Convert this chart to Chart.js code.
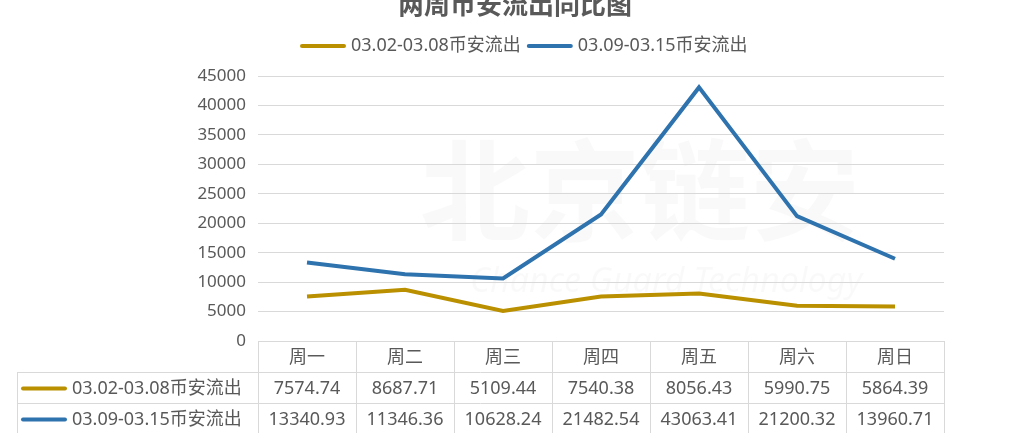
<!DOCTYPE html>
<html>
<head>
<meta charset="utf-8">
<script src="https://cdn.jsdelivr.net/npm/chart.js@4"></script>
<style>
  html, body { margin: 0; padding: 0; background: #fff; }
  #wrap { width: 1031px; height: 433px; position: relative; }
</style>
</head>
<body>
<div id="wrap"><canvas id="flowChart"></canvas></div>
<script>
// Chart data
const days = ['周一', '周二', '周三', '周四', '周五', '周六', '周日'];
const weekOneLabel = '03.02-03.08币安流出';
const weekTwoLabel = '03.09-03.15币安流出';
const weekOne = [7574.74, 8687.71, 5109.44, 7540.38, 8056.43, 5990.75, 5864.39];
const weekTwo = [13340.93, 11346.36, 10628.24, 21482.54, 43063.41, 21200.32, 13960.71];
const chartTitle = '两周币安流出同比图';

const gold = '#BA9000';
const blue = '#2E72AE';
const textColor = '#595959';
const gridColor = '#D9D9D9';
const fontFamily = '"Noto Sans", "Noto Sans CJK SC", sans-serif';

// Title, legend, watermark and the data table under the plot
const tablePlugin = {
  id: 'dataTable',
  beforeDraw(chart) {
    const ctx = chart.ctx;
    ctx.save();
    ctx.fillStyle = 'rgba(0,0,0,0.025)';
    ctx.font = 'bold 110px "Noto Sans CJK SC"';
    ctx.textAlign = 'left';
    ctx.textBaseline = 'middle';
    ctx.fillText('北京链安', 420, 190);
    ctx.font = 'italic 34px "Noto Sans"';
    ctx.fillText('Chance Guard Technology', 470, 282);
    ctx.restore();
  },
  afterDraw(chart) {
    const ctx = chart.ctx;
    const area = chart.chartArea;
    const xs = chart.scales.x;
    const colW = xs.getPixelForValue(1) - xs.getPixelForValue(0);
    const left = area.left;
    const right = area.right;
    const top = area.bottom;
    const rowH = 31;
    const labelLeft = 17;

    ctx.save();
    // title (cut at the top edge like the original)
    ctx.fillStyle = textColor;
    ctx.font = 'bold 26px "Noto Sans CJK SC"';
    ctx.textAlign = 'center';
    ctx.textBaseline = 'middle';
    ctx.fillText(chartTitle, 515, 4);

    // legend
    ctx.font = '18px ' + fontFamily;
    ctx.textAlign = 'left';
    ctx.lineWidth = 4;
    ctx.lineCap = 'round';
    let lx = 302;
    const ly = 46;
    chart.data.datasets.forEach(ds => {
      ctx.strokeStyle = ds.borderColor;
      ctx.beginPath();
      ctx.moveTo(lx, ly);
      ctx.lineTo(lx + 42, ly);
      ctx.stroke();
      ctx.fillText(ds.label, lx + 49, ly);
      lx += 49 + ctx.measureText(ds.label).width + 8;
    });

    // grid of the table
    ctx.strokeStyle = gridColor;
    ctx.lineWidth = 1;
    ctx.lineCap = 'butt';
    ctx.beginPath();
    ctx.moveTo(left, top + 0.5);
    ctx.lineTo(right, top + 0.5);
    for (let r = 1; r <= 3; r++) {
      ctx.moveTo(labelLeft, top + rowH * r + 0.5);
      ctx.lineTo(right, top + rowH * r + 0.5);
    }
    ctx.moveTo(labelLeft + 0.5, top + rowH);
    ctx.lineTo(labelLeft + 0.5, top + rowH * 3);
    for (let i = 0; i <= days.length; i++) {
      const x = Math.round(left + i * colW) + 0.5;
      ctx.moveTo(x, top);
      ctx.lineTo(x, top + rowH * 3);
    }
    ctx.stroke();

    ctx.fillStyle = textColor;
    ctx.textAlign = 'center';
    days.forEach((d, i) => {
      const cx = xs.getPixelForValue(i);
      ctx.fillText(d, cx, top + rowH / 2 + 1);
      ctx.fillText(weekOne[i].toFixed(2), cx, top + rowH * 1.5 + 1);
      ctx.fillText(weekTwo[i].toFixed(2), cx, top + rowH * 2.5 + 1);
    });

    // row labels with legend keys
    chart.data.datasets.forEach((ds, r) => {
      const cy = top + rowH * (1.5 + r) + 1;
      ctx.strokeStyle = ds.borderColor;
      ctx.lineWidth = 4;
      ctx.lineCap = 'round';
      ctx.beginPath();
      ctx.moveTo(23, cy);
      ctx.lineTo(65, cy);
      ctx.stroke();
      ctx.textAlign = 'left';
      ctx.fillText(ds.label, 72, cy);
    });
    ctx.restore();
  }
};

new Chart(document.getElementById('flowChart'), {
  type: 'line',
  data: {
    labels: days,
    datasets: [
      {
        label: weekOneLabel,
        data: weekOne,
        borderColor: gold,
        backgroundColor: gold,
        borderWidth: 4,
        pointRadius: 0,
        tension: 0
      },
      {
        label: weekTwoLabel,
        data: weekTwo,
        borderColor: blue,
        backgroundColor: blue,
        borderWidth: 4,
        pointRadius: 0,
        tension: 0
      }
    ]
  },
  options: {
    responsive: true,
    maintainAspectRatio: false,
    animation: false,
    layout: {
      padding: { top: 76, bottom: 92, left: 0, right: 87 }
    },
    plugins: {
      legend: { display: false },
      tooltip: { enabled: false }
    },
    scales: {
      x: {
        display: false,
        offset: true
      },
      y: {
        min: 0,
        max: 45000,
        ticks: {
          stepSize: 5000,
          color: textColor,
          font: { family: fontFamily, size: 17 },
          padding: 12,
          callback: value => String(value)
        },
        border: { display: false },
        grid: { color: gridColor, drawTicks: false },
        afterFit(scale) { scale.width = 258; }
      }
    }
  },
  plugins: [tablePlugin]
});
</script>
</body>
</html>
